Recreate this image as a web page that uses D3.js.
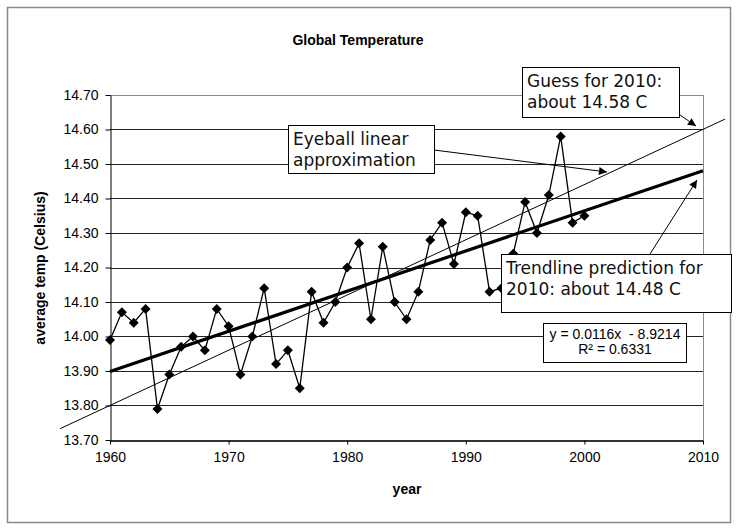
<!DOCTYPE html>
<html>
<head>
<meta charset="utf-8">
<script src="https://cdn.jsdelivr.net/npm/d3@7"></script>
<style>
  body { margin: 0; background: #fff; }
  svg { display: block; }
</style>
</head>
<body>
<svg id="chart" width="739" height="531"></svg>
<script>
const years = d3.range(1960, 2001);
const temps = [
  13.99, 14.07, 14.04, 14.08, 13.79, 13.89, 13.97, 14.00, 13.96, 14.08,
  14.03, 13.89, 14.00, 14.14, 13.92, 13.96, 13.85, 14.13, 14.04, 14.10,
  14.20, 14.27, 14.05, 14.26, 14.10, 14.05, 14.13, 14.28, 14.33, 14.21,
  14.36, 14.35, 14.13, 14.14, 14.24, 14.39, 14.30, 14.41, 14.58, 14.33,
  14.35
];
const yearTicks = [1960, 1970, 1980, 1990, 2000, 2010];
const tempTicks = [13.70, 13.80, 13.90, 14.00, 14.10, 14.20, 14.30, 14.40, 14.50, 14.60, 14.70];

// hand drawn "eyeball" guess line
const eyeballYears = [1955.8, 2011.85];
const eyeballTemps = [13.733, 14.63];

const equationLines = ['y = 0.0116x  - 8.9214', 'R\u00b2 = 0.6331'];

const svg = d3.select('#chart');

const x = d3.scaleLinear().domain([1960, 2010]).range([110, 703]);
const y = d3.scaleLinear().domain([13.70, 14.70]).range([440, 95]);

// chart area border
svg.append('rect')
  .attr('x', 7.5).attr('y', 7.5)
  .attr('width', 723).attr('height', 515)
  .attr('fill', '#fff')
  .attr('stroke', '#8a8a8a')
  .attr('stroke-width', 1.5);

svg.append('defs').append('marker')
  .attr('id', 'arrow')
  .attr('viewBox', '0 0 10 10')
  .attr('refX', 10).attr('refY', 5)
  .attr('markerWidth', 11).attr('markerHeight', 8)
  .attr('markerUnits', 'userSpaceOnUse')
  .attr('orient', 'auto')
  .append('path')
  .attr('d', 'M0,0L10,5L0,10Z')
  .attr('fill', '#000');

// gridlines
svg.append('g')
  .selectAll('line')
  .data(tempTicks.slice(1))
  .join('line')
  .attr('x1', x(1960)).attr('x2', x(2010))
  .attr('y1', d => Math.round(y(d)) + 0.5)
  .attr('y2', d => Math.round(y(d)) + 0.5)
  .attr('stroke', (d, i) => i === tempTicks.length - 2 ? '#8a8a8a' : '#222')
  .attr('stroke-width', 1);

// right plot border
svg.append('line')
  .attr('x1', x(2010) + 0.5).attr('x2', x(2010) + 0.5)
  .attr('y1', y(14.70)).attr('y2', y(13.70))
  .attr('stroke', '#8a8a8a');

const xAxis = svg.append('g')
  .attr('transform', `translate(0,${Math.round(y(13.70)) + 0.5})`)
  .call(d3.axisBottom(x).tickValues(yearTicks).tickFormat(d3.format('d')).tickSize(4).tickSizeOuter(0));
xAxis.select('.domain').attr('stroke', '#333').attr('stroke-width', 2);
xAxis.selectAll('text')
  .attr('font-family', 'Liberation Sans, Arial, sans-serif')
  .attr('font-size', 14)
  .attr('fill', '#000')
  .attr('dy', '1.05em');

const yAxis = svg.append('g')
  .attr('transform', `translate(${Math.round(x(1960)) + 0.5},0)`)
  .call(d3.axisLeft(y).tickValues(tempTicks).tickFormat(d3.format('.2f')).tickSize(5).tickSizeOuter(0));
yAxis.select('.domain').attr('stroke', '#000');
yAxis.selectAll('text')
  .attr('font-family', 'Liberation Sans, Arial, sans-serif')
  .attr('font-size', 14)
  .attr('fill', '#000')
  .attr('x', -12);

// least squares trendline
const data = years.map((yr, i) => ({year: yr, temp: temps[i]}));
const mx = d3.mean(years);
const my = d3.mean(temps);
const slope = d3.sum(data, d => (d.year - mx) * (d.temp - my)) / d3.sum(years, yr => (yr - mx) * (yr - mx));
const trend = [1960, 2010].map(yr => ({year: yr, temp: my + slope * (yr - mx)}));

const line = d3.line().x(d => x(d.year)).y(d => y(d.temp));

svg.append('path')
  .datum(eyeballYears.map((yr, i) => ({year: yr, temp: eyeballTemps[i]})))
  .attr('d', line)
  .attr('fill', 'none')
  .attr('stroke', '#000')
  .attr('stroke-width', 1);

svg.append('path')
  .datum(data)
  .attr('d', line)
  .attr('fill', 'none')
  .attr('stroke', '#000')
  .attr('stroke-width', 1.3);

svg.append('path')
  .datum(trend)
  .attr('d', line)
  .attr('fill', 'none')
  .attr('stroke', '#000')
  .attr('stroke-width', 3.2);

svg.append('g')
  .selectAll('path')
  .data(data)
  .join('path')
  .attr('transform', d => `translate(${x(d.year)},${y(d.temp)}) rotate(45)`)
  .attr('d', d3.symbol(d3.symbolSquare, 50))
  .attr('fill', '#000');

// titles
svg.append('text')
  .attr('x', 358).attr('y', 45)
  .attr('text-anchor', 'middle')
  .attr('font-family', 'Liberation Sans, Arial, sans-serif')
  .attr('font-weight', 'bold')
  .attr('font-size', 14)
  .text('Global Temperature');

svg.append('text')
  .attr('x', 407).attr('y', 494)
  .attr('text-anchor', 'middle')
  .attr('font-family', 'Liberation Sans, Arial, sans-serif')
  .attr('font-weight', 'bold')
  .attr('font-size', 14)
  .text('year');

svg.append('text')
  .attr('transform', 'translate(45,268) rotate(-90)')
  .attr('text-anchor', 'middle')
  .attr('font-family', 'Liberation Sans, Arial, sans-serif')
  .attr('font-weight', 'bold')
  .attr('font-size', 14)
  .text('average temp (Celsius)');

// equation box
const eq = svg.append('g');
eq.append('rect')
  .attr('x', 543.5).attr('y', 323.5)
  .attr('width', 143).attr('height', 39)
  .attr('fill', '#fff')
  .attr('stroke', '#000');
eq.selectAll('text')
  .data(equationLines)
  .join('text')
  .attr('x', 615)
  .attr('y', (d, i) => 339 + i * 15)
  .attr('text-anchor', 'middle')
  .attr('font-family', 'Liberation Sans, Arial, sans-serif')
  .attr('font-size', 14)
  .attr('xml:space', 'preserve')
  .style('white-space', 'pre')
  .text(d => d);

// callouts
const callouts = [
  {lines: ['Eyeball linear', 'approximation'], box: [288, 125, 146, 48], from: [434, 150], to: [607, 172]},
  {lines: ['Guess for 2010:', 'about 14.58 C'], box: [522, 67, 157, 50], from: [680, 115], to: [696, 126]},
  {lines: ['Trendline prediction for', '2010: about 14.48 C'], box: [501, 254, 230, 58], from: [650, 254], to: [697, 180]}
];

callouts.forEach(function (c) {
  svg.append('line')
    .attr('x1', c.from[0]).attr('y1', c.from[1])
    .attr('x2', c.to[0]).attr('y2', c.to[1])
    .attr('stroke', '#000')
    .attr('stroke-width', 1)
    .attr('marker-end', 'url(#arrow)');
  const g = svg.append('g');
  g.append('rect')
    .attr('x', c.box[0] + 0.5).attr('y', c.box[1] + 0.5)
    .attr('width', c.box[2]).attr('height', c.box[3])
    .attr('fill', '#fff')
    .attr('stroke', '#000');
  g.selectAll('text')
    .data(c.lines)
    .join('text')
    .attr('x', c.box[0] + 5)
    .attr('y', (d, i) => c.box[1] + 20 + i * 21)
    .attr('font-family', 'DejaVu Sans, Verdana, sans-serif')
    .attr('font-size', 17)
    .attr('fill', '#111')
    .text(d => d);
});
</script>
</body>
</html>
